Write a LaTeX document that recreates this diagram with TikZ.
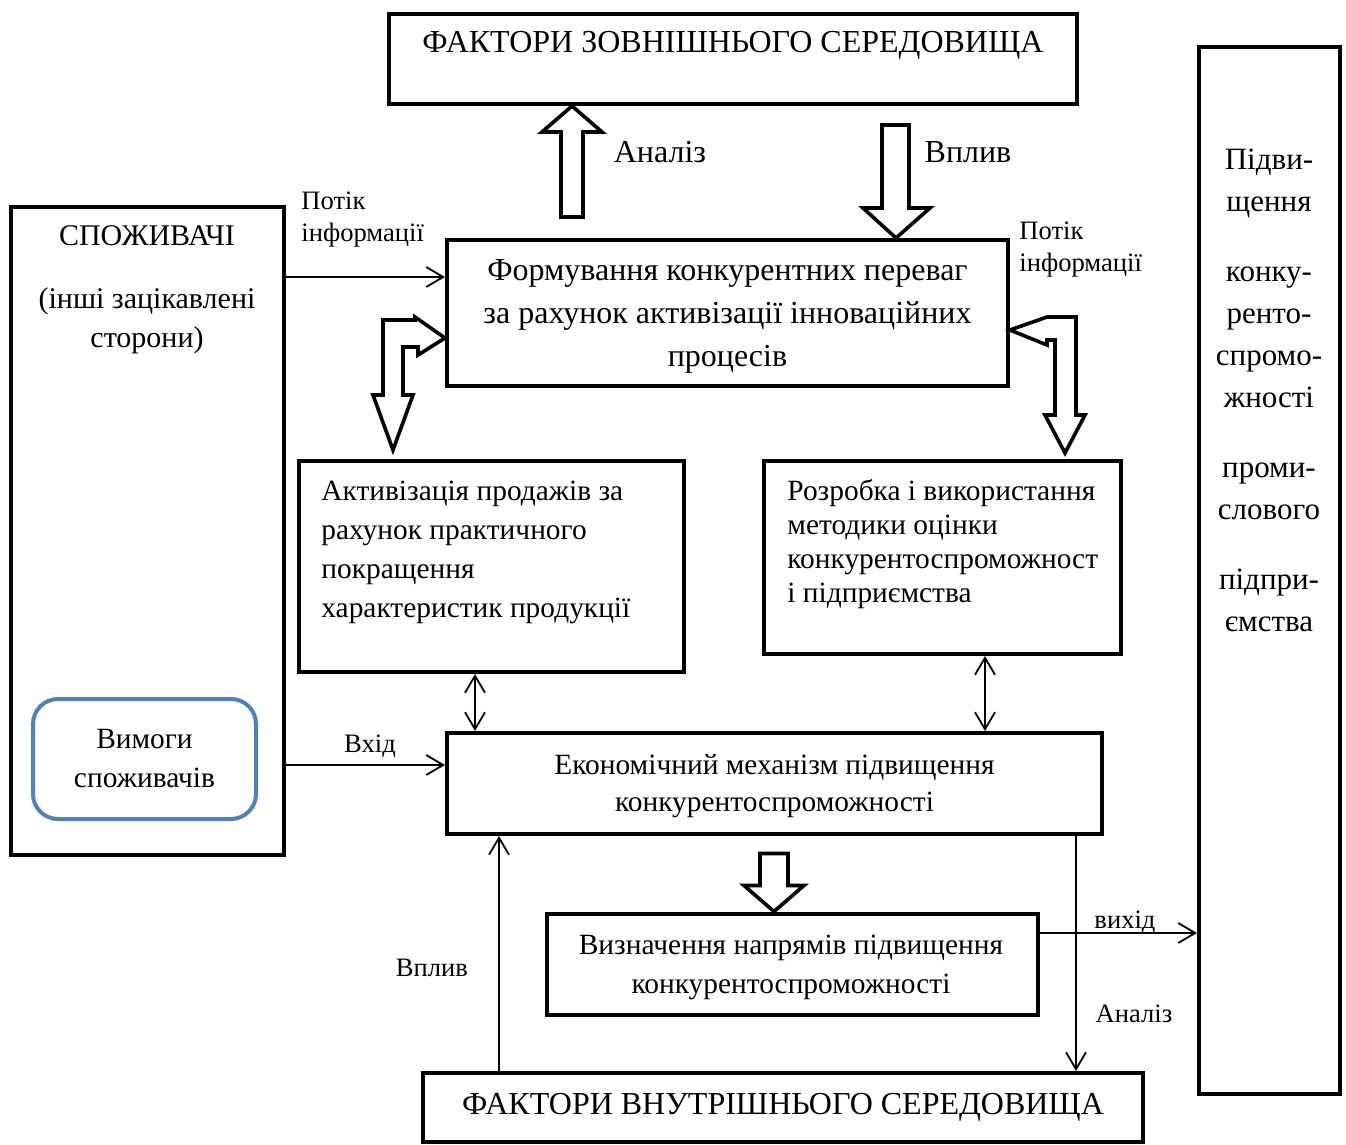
\documentclass[tikz,border=0pt]{standalone}
\usepackage{fontspec}
\setmainfont{Liberation Serif}
\usetikzlibrary{arrows.meta}
\definecolor{reqblue}{RGB}{79,129,189}

\begin{document}
\begin{tikzpicture}[x=0.5pt,y=-0.5pt,
  box/.style={draw,line width=2pt,inner sep=0pt},
  hollow/.style={draw,line width=1.8pt,fill=white,line join=miter},
  link/.style={line width=0.9pt,-{Straight Barb[length=8.5pt,width=10pt,line width=0.9pt]}},
  dlink/.style={line width=0.9pt,{Straight Barb[length=8.5pt,width=10pt,line width=0.9pt]}-{Straight Barb[length=8.5pt,width=10pt,line width=0.9pt]}},
  big/.style={font=\fontsize{16}{21.5}\selectfont},
  mid/.style={font=\fontsize{14.7}{19.5}\selectfont},
  small/.style={font=\fontsize{13.3}{16}\selectfont,inner sep=0pt}]
\useasboundingbox (0,0) rectangle (1346,1145);

% boxes
\node[box,minimum width=344pt,minimum height=45pt] (ext) at (733,59) {};
\node[big,inner sep=0pt] (exttext) at (733,45) {ФАКТОРИ ЗОВНІШНЬОГО СЕРЕДОВИЩА};
\node[box,minimum width=70.5pt,minimum height=523.5pt] (goal) at (1269.5,570.5) {};
\node[align=center,inner sep=0pt,font=\fontsize{15.5}{21}\selectfont] (goaltext) at (1269,390)
  {Підви-\\щення\\[14pt]конку-\\ренто-\\спромо-\\жності\\[14pt]проми-\\слового\\[14pt]підпри-\\ємства};
\node[box,minimum width=136.5pt,minimum height=324pt] (cons) at (147.5,531) {};
\node[mid,inner sep=0pt,font=\fontsize{15}{19.5}\selectfont] (constext) at (147,236) {СПОЖИВАЧІ};
\node[mid,align=center,inner sep=0pt,font=\fontsize{15}{19.5}\selectfont] (others) at (147,321) {(інші зацікавлені\\сторони)};
\node[draw=reqblue,line width=2pt,rounded corners=12.5pt,
  minimum width=111.5pt,minimum height=60pt,align=center,mid] (req) at (144.5,759) {Вимоги\\споживачів};
\node[box,big,align=center,minimum width=280.5pt,minimum height=73pt] (form) at (727.5,313) {};
\node[big,align=center,inner sep=0pt] (formtext) at (727.5,316)
  {Формування конкурентних переваг\\за рахунок активізації інноваційних\\процесів};
\node[box,minimum width=192.5pt,minimum height=105.5pt] (act) at (491.5,566.5) {};
\node[mid,align=left,inner sep=0pt,anchor=north west] (acttext) at (321,481)
  {Активізація продажів за\\рахунок практичного\\покращення\\характеристик продукції};
\node[box,minimum width=178.5pt,minimum height=96.5pt] (dev) at (942.5,557.5) {};
\node[align=left,inner sep=0pt,anchor=north west,font=\fontsize{14.7}{17}\selectfont] (devtext) at (787,479)
  {Розробка і використання\\методики оцінки\\конкурентоспроможност\\і підприємства};
\node[box,minimum width=327.5pt,minimum height=50.5pt] (econ) at (774.5,783.5) {};
\node[align=center,inner sep=0pt,font=\fontsize{14.7}{18.5}\selectfont] (econtext) at (774.5,786.5)
  {Економічний механізм підвищення\\конкурентоспроможності};
\node[box,minimum width=245.5pt,minimum height=50.5pt] (dir) at (792.5,964) {};
\node[mid,align=center,inner sep=0pt] (dirtext) at (791,967)
  {Визначення напрямів підвищення\\конкурентоспроможності};
\node[box,big,minimum width=360pt,minimum height=34.5pt] (int) at (783,1107.5) {ФАКТОРИ ВНУТРІШНЬОГО СЕРЕДОВИЩА};

% hollow arrows
\draw[hollow] (ext.south -| 572,0) -- ++(30,26) -- ++(-19,0) -- ++(0,85) -- ++(-22,0)
  -- ++(0,-85) -- ++(-19,0) -- cycle;
\draw[hollow] (form.north -| 896,0) -- ++(34,-30) -- ++(-21,0) -- ++(0,-83) -- ++(-27,0)
  -- ++(0,83) -- ++(-19,0) -- cycle;
\draw[hollow] (dir.north -| 774,0) -- ++(30,-26) -- ++(-16,0) -- ++(0,-32) -- ++(-28,0)
  -- ++(0,32) -- ++(-16,0) -- cycle;
\draw[hollow] (form.west |- 0,338) -- ++(-30,-21) -- ++(0,3) -- ++(-32,0) -- ++(0,75)
  -- ++(-10,0) -- ++(20,55) -- ++(20,-55) -- ++(-10,0) -- ++(0,-48) -- ++(15,0) -- ++(0,8) -- cycle;
\draw[hollow] (form.east |- 0,330) -- ++(37,-13) -- ++(29,0) -- ++(0,98) -- ++(9,0)
  -- ++(-20,38) -- ++(-20,-38) -- ++(10,0) -- ++(0,-75) -- ++(-8,0) -- ++(0,5) -- cycle;
\node[big,inner sep=0pt] (l1) at (660,152) {Аналіз};
\node[big,inner sep=0pt] (l2) at (968,152) {Вплив};

% thin connectors
\coordinate (yinfo) at (0,277);
\coordinate (yin) at (0,765);
\coordinate (yout) at (0,933);
\coordinate (xa) at (475,0);
\coordinate (xb) at (985,0);
\coordinate (xc) at (499,0);
\coordinate (xd) at (1076,0);
\draw[link] (cons.east |- yinfo) -- (form.west |- yinfo);
\draw[link] (cons.east |- yin) -- (econ.west |- yin);
\draw[dlink] (act.south -| xa) -- (econ.north -| xa);
\draw[dlink] (dev.south -| xb) -- (econ.north -| xb);
\draw[link] (int.north -| xc) -- (econ.south -| xc);
\draw[link] (econ.south -| xd) -- (int.north -| xd);
\draw[link] (dir.east |- yout) -- (goal.west |- yout);

% labels
\node[small,align=left,anchor=west] (info1) at (301,220) {Потік\\інформації};
\node[small,align=left,anchor=west] (info2) at (1019,250) {Потік\\інформації};
\node[small] (lin) at (370,746) {Вхід};
\node[small] (lout) at (1125,922) {вихід};
\node[small] (lan) at (1134,1014) {Аналіз};
\node[small] (lvp) at (432,968) {Вплив};
\end{tikzpicture}
\end{document}
